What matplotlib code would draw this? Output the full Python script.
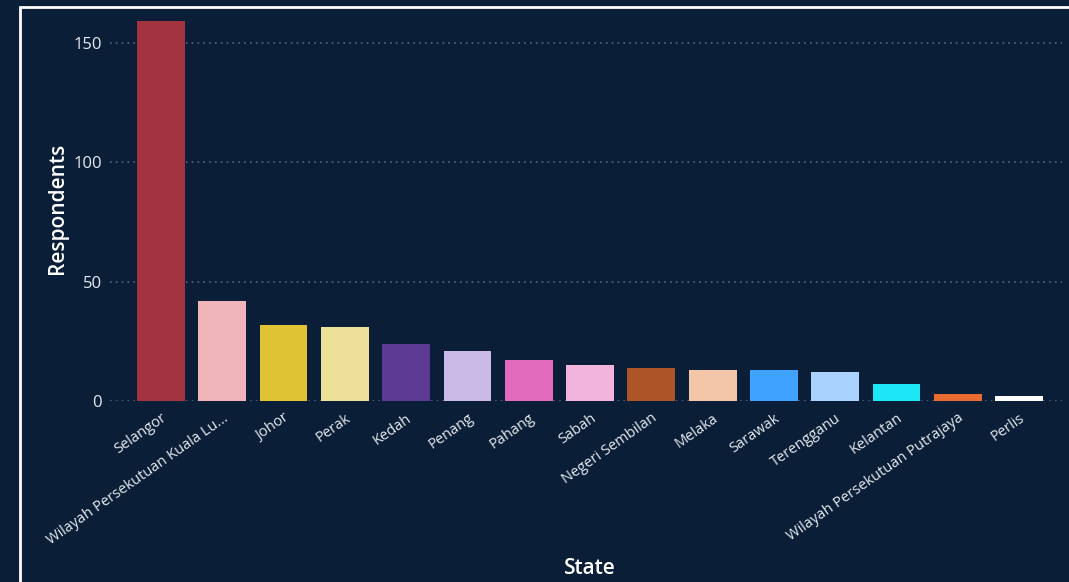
import matplotlib
matplotlib.use("Agg")
import matplotlib.pyplot as plt
from matplotlib.patches import Rectangle

states = [
    "Selangor", "Wilayah Persekutuan Kuala Lu...", "Johor", "Perak", "Kedah",
    "Penang", "Pahang", "Sabah", "Negeri Sembilan", "Melaka", "Sarawak",
    "Terengganu", "Kelantan", "Wilayah Persekutuan Putrajaya", "Perlis",
]
respondents = [159, 42, 32, 31, 24, 21, 17, 15, 14, 13, 13, 12, 7, 3, 2]
bar_colors = [
    "#A3343F", "#F0B5B9", "#E0C235", "#EDE199", "#5C3A93", "#CBB9E7",
    "#E36BBE", "#F2B3DC", "#AE5429", "#F4C6A9", "#3FA2FE", "#A9D2FE",
    "#1BE7F7", "#E96B31", "#FFFFFF",
]
y_ticks = [0, 50, 100, 150]

BG = "#0A1F37"
TEXT = "#E6EAF0"

plt.rcParams["font.family"] = ["Open Sans", "DejaVu Sans"]

fig = plt.figure(figsize=(10.69, 5.82), dpi=100, facecolor=BG)
ax = fig.add_axes([0.103, 0.311, 0.8905, 0.663], facecolor=BG)

x = list(range(len(states)))
ax.bar(x, respondents, width=0.78, color=bar_colors, zorder=3)

ax.set_xlim(-0.83, 14.7)
ax.set_ylim(0, 161.5)
ax.set_yticks(y_ticks)
ax.set_yticklabels([str(v) for v in y_ticks], color=TEXT, fontsize=12)
ax.yaxis.grid(True, linestyle=(0, (1, 2.5)), color="#55677E", linewidth=1.2, zorder=0)
ax.tick_params(axis="y", length=0, pad=6)
ax.tick_params(axis="x", length=0, pad=7)

ax.set_xticks(x)
ax.set_xticklabels(states, rotation=35, ha="right", va="top",
                   rotation_mode="anchor", color=TEXT, fontsize=10.5)

for side in ax.spines.values():
    side.set_visible(False)

ax.set_ylabel("Respondents", color="#FFFFFF", fontsize=15,
              fontweight="semibold", labelpad=4)
fig.text(0.552, (582 - 569) / 582, "State", color="#FFFFFF", fontsize=15,
         fontweight="semibold", ha="center", va="center")

# white frame around the visual
fig.patches.append(Rectangle((19.5 / 1069, -0.05), 1.2, (582 - 6.5) / 582 + 0.05,
                             transform=fig.transFigure, fill=False,
                             edgecolor="#FFFFFF", linewidth=2, zorder=10))

fig.savefig("out.png", dpi=100, facecolor=BG)
